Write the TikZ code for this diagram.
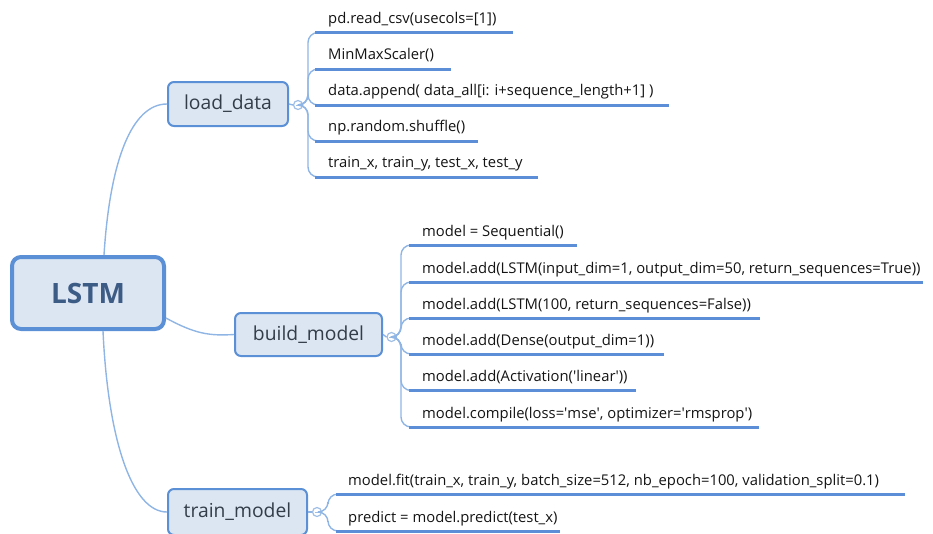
\documentclass[tikz,border=0pt]{standalone}
\usepackage{fontspec}
\setmainfont{Open Sans}
\definecolor{boxfill}{HTML}{DCE6F3}
\definecolor{boxline}{HTML}{5B8FD6}
\definecolor{connline}{HTML}{8FB5E5}
\definecolor{uline}{HTML}{5B8ED6}
\definecolor{circline}{HTML}{A0BFE6}
\definecolor{lstmtext}{HTML}{3D5C85}
\definecolor{boxtext}{HTML}{333D4A}
\definecolor{leaftext}{HTML}{141414}
\tikzset{
  rootbox/.style={draw=boxline, line width=4pt, fill=boxfill, rounded corners=9pt,
    minimum width=152pt, minimum height=72pt, inner sep=0pt,
    font=\fontsize{28}{30}\selectfont\bfseries, text=lstmtext},
  subbox/.style={draw=boxline, line width=2pt, fill=boxfill, rounded corners=6pt,
    inner sep=0pt, font=\fontsize{19.3}{22}\selectfont, text=boxtext},
  leaf/.style={anchor=base west, inner sep=0pt, font=\fontsize{14.8}{16}\selectfont, text=leaftext},
  conn/.style={draw=connline, line width=1.4pt},
  uln/.style={draw=uline, line width=3pt},
  tog/.style={circle, draw=circline, line width=1.2pt, fill=white, minimum size=9pt, inner sep=0pt,
    path picture={\draw[circline, line width=1pt] ([xshift=-2.2pt]path picture bounding box.center) -- ([xshift=2.2pt]path picture bounding box.center);}},
}
\begin{document}
\begin{tikzpicture}[x=1pt,y=-1pt]
\useasboundingbox (0,0) rectangle (933,533);

% main boxes
\node[rootbox] (lstm) at (88,293) {LSTM};
\node[subbox, minimum width=120pt, minimum height=44pt] (ld) at (228,104) {load\_data};
\node[subbox, minimum width=147pt, minimum height=43pt] (bm) at (308.5,334.5) {build\_model};
\node[subbox, minimum width=139pt, minimum height=46pt] (tm) at (237.5,512) {train\_model};

% main connectors
\draw[conn] ([xshift=16pt]lstm.north) .. controls (110,160) and (132,104) .. (ld.west);
\draw[conn] ([yshift=-25pt]lstm.east) .. controls (195,334) and (210,336) .. (bm.west);
\draw[conn] ([xshift=15pt]lstm.south) .. controls (108,440) and (132,512) .. (tm.west);

% toggles
\node[tog] (ldc) at (298,105) {};
\node[tog] (bmc) at (391.5,337) {};
\node[tog] (tmc) at (317,512) {};
\draw[conn] (ld.east) -- (ldc.west);
\draw[conn] (bm.east) -- (bmc.west);
\draw[conn] (tm.east) -- (tmc.west);

% load_data children
\foreach \n/\u/\e/\t in {
  l1/32.5/513/{pd.read\_csv(usecols=[1])},
  l2/69/451/{MinMaxScaler()},
  l3/105/669/{data.append( data\_all[i: i+sequence\_length+1] )},
  l4/141/478/{np.random.shuffle()},
  l5/177/538/{train\_x, train\_y, test\_x, test\_y}}{
  \coordinate (\n s) at (315,\u);
  \coordinate (\n e) at (\e,\u);
  \node[leaf] (\n) at (328,\u-9.5) {\t};
  \draw[conn, rounded corners=10pt] (ldc.east) -| (308,\u) -- (\n s);
  \draw[uln] (\n s) -- (\n e);
}

% build_model children
\foreach \n/\u/\e/\t in {
  b1/245/577/{model = Sequential()},
  b2/282/923/{model.add(LSTM(input\_dim=1, output\_dim=50, return\_sequences=True))},
  b3/318/760/{model.add(LSTM(100, return\_sequences=False))},
  b4/354/664/{model.add(Dense(output\_dim=1))},
  b5/390.5/636/{model.add(Activation(\textquotesingle linear\textquotesingle))},
  b6/427/759/{model.compile(loss=\textquotesingle mse\textquotesingle, optimizer=\textquotesingle rmsprop\textquotesingle)}}{
  \coordinate (\n s) at (409,\u);
  \coordinate (\n e) at (\e,\u);
  \node[leaf] (\n) at (422,\u-9) {\t};
  \draw[conn, rounded corners=10pt] (bmc.east) -| (401,\u) -- (\n s);
  \draw[uln] (\n s) -- (\n e);
}

% train_model children
\foreach \n/\u/\e/\t in {
  t1/494/905/{model.fit(train\_x, train\_y, batch\_size=512, nb\_epoch=100, validation\_split=0.1)},
  t2/531/560/{predict = model.predict(test\_x)}}{
  \coordinate (\n s) at (336,\u);
  \coordinate (\n e) at (\e,\u);
  \node[leaf] (\n) at (348,\u-9) {\t};
  \draw[conn, rounded corners=10pt] (tmc.east) -| (328,\u) -- (\n s);
  \draw[uln] (\n s) -- (\n e);
}
\end{tikzpicture}
\end{document}
